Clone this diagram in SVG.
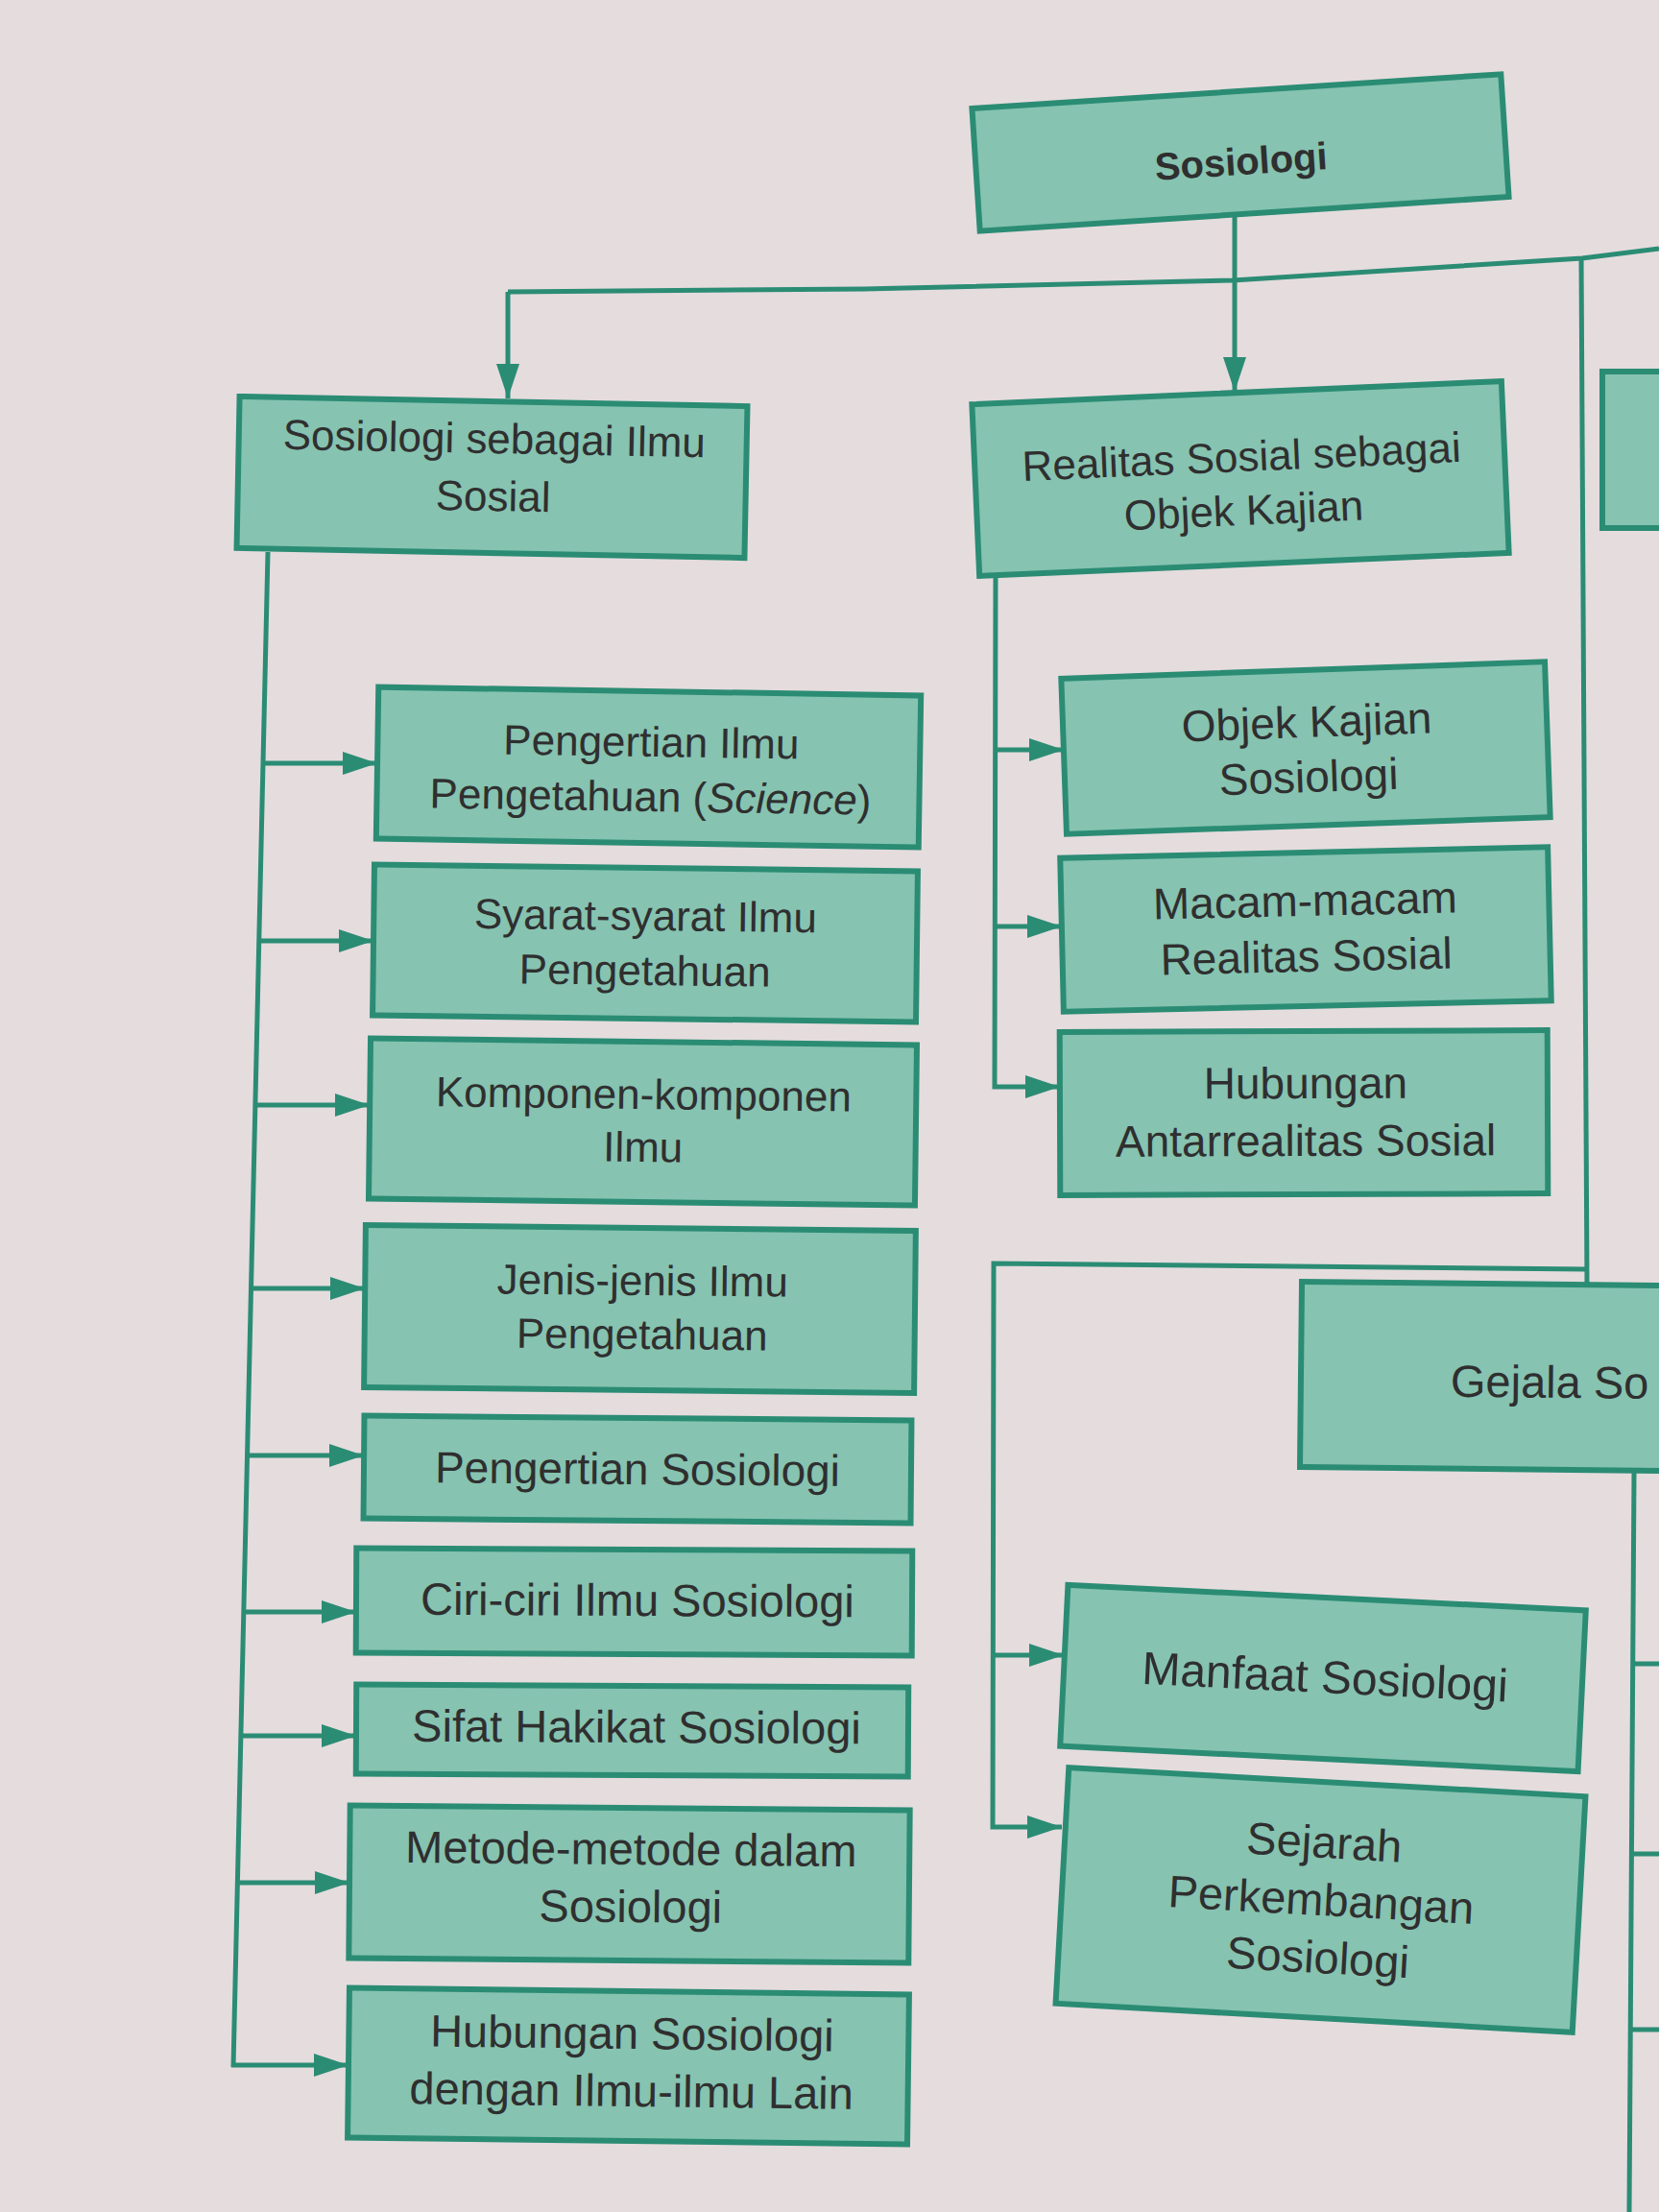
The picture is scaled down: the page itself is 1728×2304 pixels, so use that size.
<svg xmlns="http://www.w3.org/2000/svg" width="1728" height="2304" viewBox="0 0 1728 2304">
  <defs>
    <style>
      .box { fill: #86c3b1; stroke: #2b8c74; stroke-width: 6; }
      .lbl { font-family: "Liberation Sans", Arial, sans-serif; fill: #2f2f2f; text-anchor: middle; }
      .con { fill: none; stroke: #2b8c74; stroke-width: 5; stroke-linejoin: miter; }
    </style>
    <marker id="arr" markerUnits="userSpaceOnUse" markerWidth="36" markerHeight="24" refX="36" refY="12" orient="auto">
      <path d="M0,0 L36,12 L0,24 Z" fill="#2b8c74"/>
    </marker>
  </defs>

  <rect x="0" y="0" width="1728" height="2304" fill="#e5dcdd"/>

  <!-- connectors -->
  <g id="connectors">
    <polyline class="con" points="529,304 900,301 1284,292 1648,269 1728,259"/>
    <line class="con" x1="529" y1="304" x2="529" y2="415" marker-end="url(#arr)"/>
    <line class="con" x1="1286" y1="222" x2="1286" y2="408" marker-end="url(#arr)"/>
    <line class="con" x1="1647" y1="267" x2="1653" y2="1340"/>

    <!-- left column -->
    <line class="con" x1="279" y1="575" x2="243" y2="2153"/>
    <line class="con" x1="274" y1="795" x2="393" y2="795" marker-end="url(#arr)"/>
    <line class="con" x1="270" y1="980" x2="389" y2="980" marker-end="url(#arr)"/>
    <line class="con" x1="266" y1="1151" x2="385" y2="1151" marker-end="url(#arr)"/>
    <line class="con" x1="261" y1="1342" x2="380" y2="1342" marker-end="url(#arr)"/>
    <line class="con" x1="257" y1="1516" x2="379" y2="1516" marker-end="url(#arr)"/>
    <line class="con" x1="254" y1="1679" x2="371" y2="1679" marker-end="url(#arr)"/>
    <line class="con" x1="251" y1="1808" x2="371" y2="1808" marker-end="url(#arr)"/>
    <line class="con" x1="247" y1="1961" x2="364" y2="1961" marker-end="url(#arr)"/>
    <line class="con" x1="241" y1="2151" x2="363" y2="2151" marker-end="url(#arr)"/>

    <!-- right column -->
    <polyline class="con" points="1037,597 1036,1132 1104,1132" marker-end="url(#arr)"/>
    <line class="con" x1="1036" y1="781" x2="1108" y2="781" marker-end="url(#arr)"/>
    <line class="con" x1="1036" y1="965" x2="1106" y2="965" marker-end="url(#arr)"/>

    <!-- lower branch -->
    <polyline class="con" points="1652,1322 1035,1316 1034,1903 1106,1903" marker-end="url(#arr)"/>
    <line class="con" x1="1034" y1="1724" x2="1108" y2="1724" marker-end="url(#arr)"/>

    <!-- far right -->
    <line class="con" x1="1702" y1="1534" x2="1697" y2="2304"/>
    <line class="con" x1="1701" y1="1733" x2="1728" y2="1733"/>
    <line class="con" x1="1700" y1="1931" x2="1728" y2="1931"/>
    <line class="con" x1="1698" y1="2114" x2="1728" y2="2114"/>
  </g>

  <!-- nodes -->
  <g id="n-sosiologi" transform="rotate(-3.7 1292 159)">
    <rect class="box" x="1016" y="95" width="552" height="128"/>
    <text class="lbl" x="1292" y="182" font-size="40" font-weight="bold">Sosiologi</text>
  </g>

  <g id="n-ilmu-sosial" transform="rotate(1.1 512 497)">
    <rect class="box" x="248" y="418" width="529" height="158"/>
    <text class="lbl" x="514" y="472" font-size="44">Sosiologi sebagai Ilmu</text>
    <text class="lbl" x="514" y="532" font-size="44">Sosial</text>
  </g>

  <g id="n-realitas" transform="rotate(-2.5 1292 498)">
    <rect class="box" x="1016" y="409" width="552" height="179"/>
    <text class="lbl" x="1294" y="491" font-size="44">Realitas Sosial sebagai</text>
    <text class="lbl" x="1294" y="547" font-size="44">Objek Kajian</text>
  </g>

  <g id="n-partial-top-right">
    <rect class="box" x="1669" y="387" width="100" height="163"/>
  </g>

  <g id="n-pengertian-ilmu" transform="rotate(0.9 675 799)">
    <rect class="box" x="393" y="720" width="565" height="158"/>
    <text class="lbl" x="678" y="788" font-size="44">Pengertian Ilmu</text>
    <text class="lbl" x="678" y="845" font-size="44">Pengetahuan (<tspan font-style="italic">Science</tspan>)</text>
  </g>

  <g id="n-syarat" transform="rotate(0.7 672 983)">
    <rect class="box" x="389" y="904" width="566" height="157"/>
    <text class="lbl" x="672" y="969" font-size="44">Syarat-syarat Ilmu</text>
    <text class="lbl" x="672" y="1026" font-size="44">Pengetahuan</text>
  </g>

  <g id="n-komponen" transform="rotate(0.7 670 1168)">
    <rect class="box" x="385" y="1085" width="569" height="167"/>
    <text class="lbl" x="670" y="1155" font-size="44">Komponen-komponen</text>
    <text class="lbl" x="670" y="1210" font-size="44">Ilmu</text>
  </g>

  <g id="n-jenis" transform="rotate(0.6 667 1363)">
    <rect class="box" x="380" y="1279" width="573" height="169"/>
    <text class="lbl" x="669" y="1349" font-size="44">Jenis-jenis Ilmu</text>
    <text class="lbl" x="669" y="1405" font-size="44">Pengetahuan</text>
  </g>

  <g id="n-pengertian-sosiologi" transform="rotate(0.5 664 1530)">
    <rect class="box" x="379" y="1477" width="570" height="107"/>
    <text class="lbl" x="664" y="1546" font-size="46">Pengertian Sosiologi</text>
  </g>

  <g id="n-ciri" transform="rotate(0.3 660 1668)">
    <rect class="box" x="371" y="1614" width="579" height="109"/>
    <text class="lbl" x="664" y="1683" font-size="47">Ciri-ciri Ilmu Sosiologi</text>
  </g>

  <g id="n-sifat" transform="rotate(0.3 658 1802)">
    <rect class="box" x="371" y="1756" width="575" height="93"/>
    <text class="lbl" x="663" y="1815" font-size="47">Sifat Hakikat Sosiologi</text>
  </g>

  <g id="n-metode" transform="rotate(0.5 655 1962)">
    <rect class="box" x="364" y="1883" width="583" height="159"/>
    <text class="lbl" x="657" y="1942" font-size="47">Metode-metode dalam</text>
    <text class="lbl" x="657" y="2002" font-size="47">Sosiologi</text>
  </g>

  <g id="n-hubungan-ilmu" transform="rotate(0.7 654 2152)">
    <rect class="box" x="363" y="2074" width="583" height="156"/>
    <text class="lbl" x="658" y="2134" font-size="47">Hubungan Sosiologi</text>
    <text class="lbl" x="658" y="2194" font-size="47">dengan Ilmu-ilmu Lain</text>
  </g>

  <g id="n-objek" transform="rotate(-2.0 1360 779)">
    <rect class="box" x="1108" y="698" width="504" height="162"/>
    <text class="lbl" x="1362" y="768" font-size="46">Objek Kajian</text>
    <text class="lbl" x="1362" y="825" font-size="46">Sosiologi</text>
  </g>

  <g id="n-macam" transform="rotate(-1.3 1360 968)">
    <rect class="box" x="1106" y="888" width="508" height="160"/>
    <text class="lbl" x="1360" y="954" font-size="46">Macam-macam</text>
    <text class="lbl" x="1360" y="1012" font-size="46">Realitas Sosial</text>
  </g>

  <g id="n-antarrealitas" transform="rotate(-0.2 1358 1159)">
    <rect class="box" x="1104" y="1074" width="508" height="170"/>
    <text class="lbl" x="1360" y="1144" font-size="46">Hubungan</text>
    <text class="lbl" x="1360" y="1204" font-size="46">Antarrealitas Sosial</text>
  </g>

  <g id="n-gejala" transform="rotate(0.6 1540 1434)">
    <rect class="box" x="1355" y="1337" width="450" height="193"/>
    <text class="lbl" x="1511" y="1455" font-size="47" text-anchor="start" style="text-anchor:start">Gejala So</text>
  </g>

  <g id="n-manfaat" transform="rotate(2.8 1378 1748)">
    <rect class="box" x="1108" y="1664" width="540" height="168"/>
    <text class="lbl" x="1380" y="1763" font-size="48">Manfaat Sosiologi</text>
  </g>

  <g id="n-sejarah" transform="rotate(3.2 1376 1979)">
    <rect class="box" x="1106" y="1856" width="539" height="246"/>
    <text class="lbl" x="1376" y="1935" font-size="47">Sejarah</text>
    <text class="lbl" x="1376" y="1995" font-size="47">Perkembangan</text>
    <text class="lbl" x="1376" y="2055" font-size="47">Sosiologi</text>
  </g>
</svg>
